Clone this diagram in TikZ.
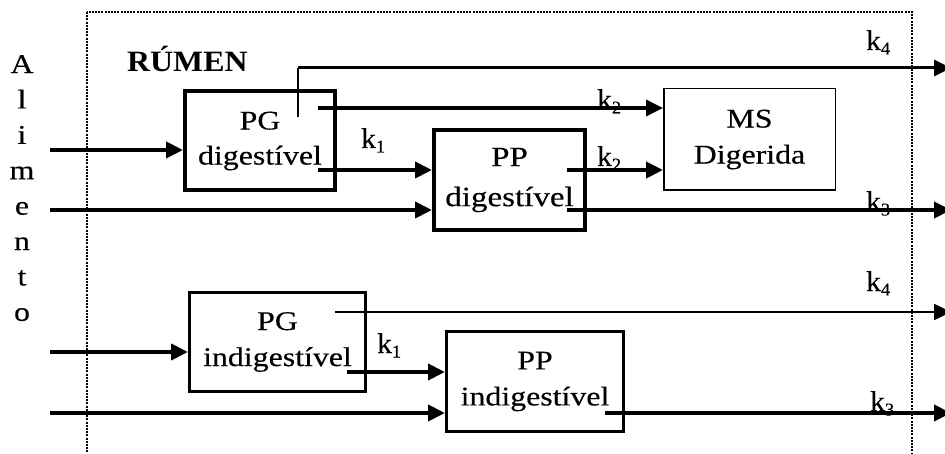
\documentclass[tikz,border=0pt]{standalone}
\usepackage{fontspec}
\setmainfont{Liberation Serif}
\newfontfamily\boxfont[FakeStretch=1.18,FakeBold=0.35]{Liberation Serif}
\newfontfamily\klfont[FakeStretch=1.03,FakeBold=0.35]{Liberation Serif}
\newfontfamily\ttlfont[FakeStretch=1.08]{Liberation Serif}
\usetikzlibrary{arrows.meta}
\newcommand\kl[1]{k\raisebox{-4.5pt}{\fontsize{18}{18}\selectfont #1}}
\begin{document}
\begin{tikzpicture}[x=1pt,y=-1pt,
  boxn/.style={draw, align=center, inner sep=0pt,
    font=\boxfont\fontsize{27}{36}\selectfont},
  arr/.style={line width=4pt, -{Triangle[length=17pt,width=16pt]}},
  klabel/.style={anchor=base west, inner sep=0pt, font=\klfont\fontsize{28.5}{28}\selectfont},
  frame/.style={line width=2.6pt, dash pattern=on 2pt off 1.2pt}]
\useasboundingbox (0,0) rectangle (945,454);
\clip (0,0) rectangle (945,454);

% frame
\draw[frame] (87,12) rectangle (912,480);

% side text and title
\node[align=center, anchor=north, inner sep=0pt,
  font=\boxfont\fontsize{27}{35.4}\selectfont] (alim) at (22,55) {A\\l\\i\\m\\e\\n\\t\\o};
\node[anchor=base west, inner sep=0pt,
  font=\ttlfont\bfseries\fontsize{29.5}{30}\selectfont] (rumen) at (127,72) {RÚMEN};

% boxes
\node[boxn, line width=4pt, minimum width=150pt, minimum height=99pt,
  font=\boxfont\fontsize{27}{35}\selectfont] (pgd) at (260,141) {PG\\digestível};
\node[boxn, line width=4pt, minimum width=151pt, minimum height=100pt,
  font=\boxfont\fontsize{28}{40}\selectfont] (ppd) at (509.5,180) {PP\\digestível};
\node[boxn, line width=1.5pt, minimum width=171.5pt, minimum height=101.5pt] (ms) at (749.5,139.5) {MS\\Digerida};
\node[boxn, line width=3pt, minimum width=176pt, minimum height=99pt] (pgi) at (277.5,342) {PG\\indigestível};
\node[boxn, line width=3pt, minimum width=177pt, minimum height=100pt] (ppi) at (535,381.5) {PP\\indigestível};

% rate labels
\node[klabel] (k4a) at (866,50) {\kl{4}};
\node[klabel] (k2a) at (597,109) {\kl{2}};
\node[klabel] (k1a) at (361,148) {\kl{1}};
\node[klabel] (k2b) at (597,166) {\kl{2}};
\node[klabel] (k3a) at (866,211) {\kl{3}};
\node[klabel] (k4b) at (866,291) {\kl{4}};
\node[klabel] (k1b) at (377,353) {\kl{1}};
\node[klabel] (k3b) at (870,411) {\kl{3}};

% coordinates
\coordinate (f1) at (50,150);
\coordinate (f2) at (50,210);
\coordinate (f3) at (50,352);
\coordinate (f4) at (50,413);
\coordinate (t0) at (298,117);
\coordinate (t1) at (298,68);
\coordinate (o1) at (951,68);
\coordinate (a1) at (318,108);
\coordinate (a2) at (318,170);
\coordinate (b1) at (567,170);
\coordinate (b2) at (567,210);
\coordinate (o2) at (951,210);
\coordinate (c1) at (335,312);
\coordinate (o3) at (951,312);
\coordinate (c2) at (347,372);
\coordinate (d1) at (605,413);
\coordinate (o4) at (951,413);

% food inputs
\draw[arr] (f1) -- (f1 -| pgd.west);
\draw[arr] (f2) -- (f2 -| ppd.west);
\draw[arr] (f3) -- (f3 -| pgi.west);
\draw[arr] (f4) -- (f4 -| ppi.west);

% digestible flows
\draw[line width=1.3pt] (t0) -- (t1);
\draw[arr, line width=3pt] (t1) -- (o1);
\draw[arr, line width=3.5pt] (a1) -- (a1 -| ms.west);
\draw[arr] (a2) -- (a2 -| ppd.west);
\draw[arr] (b1) -- (b1 -| ms.west);
\draw[arr] (b2) -- (o2);

% indigestible flows
\draw[arr, line width=2.5pt] (c1) -- (o3);
\draw[arr] (c2) -- (c2 -| ppi.west);
\draw[arr] (d1) -- (o4);
\end{tikzpicture}
\end{document}
